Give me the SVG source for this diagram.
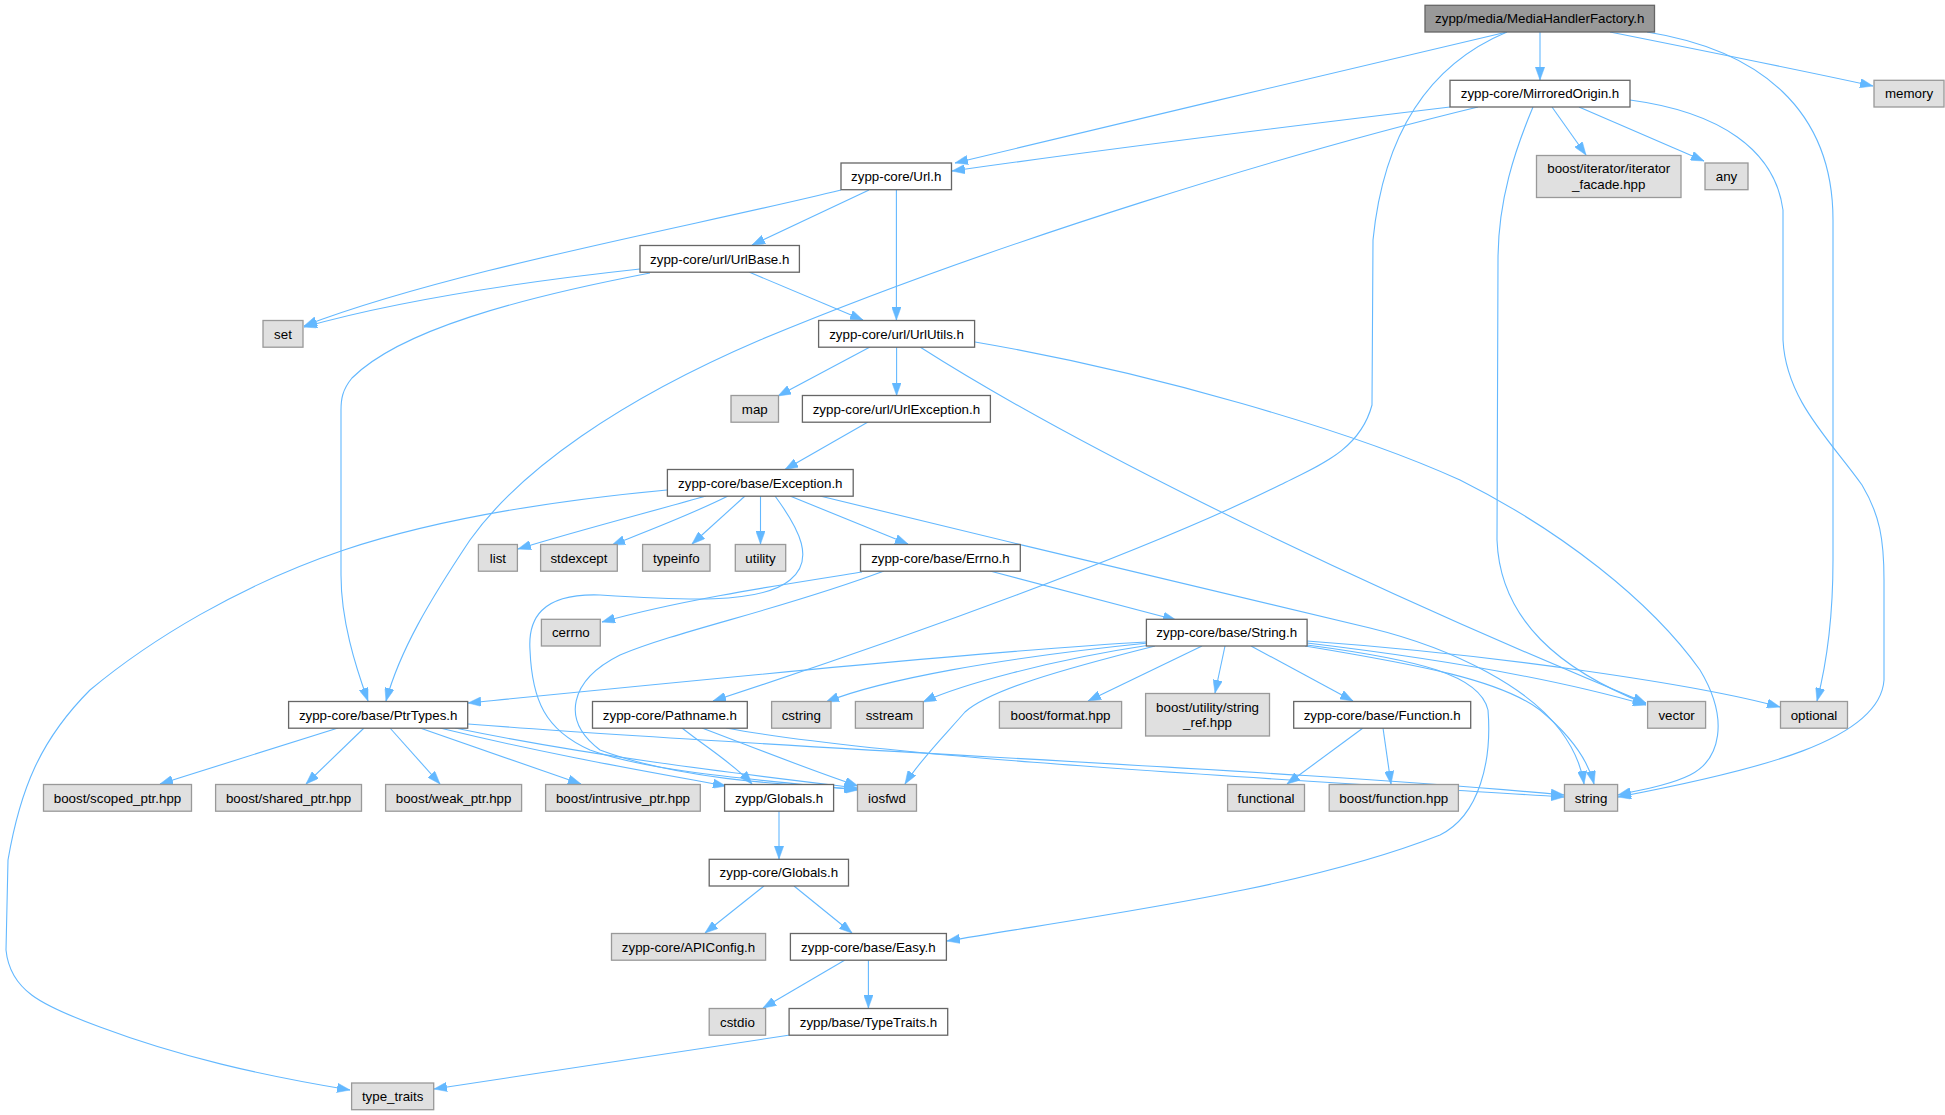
<svg xmlns="http://www.w3.org/2000/svg" width="1945" height="1115" viewBox="0 0 1945 1115">
<style>
.n{fill:#ffffff;stroke:#666666;stroke-width:1.3}
.x{fill:#e0e0e0;stroke:#999999;stroke-width:1.3}
.m{fill:#999999;stroke:#666666;stroke-width:1.3}
text{font-family:"Liberation Sans",Arial,Helvetica,sans-serif;font-size:13.33px;fill:#000000;text-anchor:middle}
#edges path{fill:none;stroke:#63b8ff;stroke-width:1.1;marker-end:url(#arr)}
</style>
<defs>
<marker id="arr" markerUnits="userSpaceOnUse" markerWidth="13" markerHeight="9.4" refX="13" refY="4.7" orient="auto" viewBox="0 0 13 9.4">
<path d="M0,0 L13,4.7 L0,9.4 z" fill="#63b8ff" stroke="#63b8ff" stroke-width="0.5"/>
</marker>
</defs>
<rect width="1945" height="1115" fill="#ffffff"/>
<g id="edges">
<path d="M1507,32 C1400,57 1100,128 955,163"/>
<path d="M1540,32 L1540,80"/>
<path d="M1610,32 C1700,50 1800,70 1873,86"/>
<path d="M1647,32 C1760,50 1833,110 1833,220 L1833,560 C1833,620 1825,670 1817,701"/>
<path d="M1507,32 C1440,60 1385,120 1373,240 L1372,405 C1360,450 1320,465 1280,485 C1150,550 900,640 713,701"/>
<path d="M1450,107 C1300,125 1100,150 952,171"/>
<path d="M1478,107 C1300,150 1000,240 760,340 C620,400 520,470 470,540 C430,600 400,650 386,701"/>
<path d="M1533,107 C1515,150 1498,200 1498,260 L1497,540 C1500,620 1560,670 1646,704"/>
<path d="M1552,107 L1586,155"/>
<path d="M1579,107 L1704,161"/>
<path d="M1630,100 C1720,112 1775,150 1783,210 L1783,340 C1786,400 1830,440 1862,485 C1880,515 1884,540 1884,580 L1884,680 C1880,740 1760,770 1618,797"/>
<path d="M841,190 C700,225 450,270 304,326"/>
<path d="M640,269 C520,282 400,300 304,327"/>
<path d="M869,190 L752,245"/>
<path d="M896.4,190 L896.4,320"/>
<path d="M749,272 L863,320"/>
<path d="M650,273 C520,298 400,330 352,378 C342,390 341,400 341,410 L341,575 C341,620 355,665 368,701"/>
<path d="M870,347 L778,396"/>
<path d="M896.6,347 L896.6,395.5"/>
<path d="M920,347 C1050,430 1300,560 1646,703"/>
<path d="M975,342 C1150,372 1350,430 1460,480 C1560,530 1650,600 1700,670 C1730,720 1720,760 1690,775 C1670,785 1640,790 1618,795"/>
<path d="M868,422 L785,469.5"/>
<path d="M667,490 C560,500 440,518 344,550 C240,585 150,640 90,690 C40,740 20,790 8,860 L6,950 C10,990 40,1005 100,1027 C180,1057 260,1075 350,1090"/>
<path d="M706,496 C650,512 580,530 518,549"/>
<path d="M728,496 C690,515 650,530 612,545"/>
<path d="M745,496 L692,544"/>
<path d="M760.5,496 L760.5,544"/>
<path d="M790,496 L908,544"/>
<path d="M775,496 C800,530 815,560 790,580 C760,605 680,600 600,595 C540,593 528,620 530,650 C532,700 545,730 590,750 C650,772 760,780 858,790"/>
<path d="M820,496 C1000,540 1250,600 1370,628 C1460,650 1530,690 1560,730 C1575,750 1582,770 1584,784"/>
<path d="M862,572 C780,585 680,600 602,622"/>
<path d="M884,571 C780,610 680,630 620,655 C570,680 560,720 600,750 C680,780 790,785 857,789"/>
<path d="M990,571 L1176,620"/>
<path d="M1146,642 C1000,650 700,680 468,703"/>
<path d="M1148,643 C1000,658 880,680 826,702"/>
<path d="M1150,645 C1050,660 960,685 923,702"/>
<path d="M1155,646 C1060,670 990,690 965,712 C945,735 920,760 905,784"/>
<path d="M1202,646 L1088,701"/>
<path d="M1225,646 L1215,693"/>
<path d="M1251,646 L1353,701"/>
<path d="M1307,643 C1450,660 1560,680 1646,705"/>
<path d="M1307,641 C1500,655 1700,685 1780,707"/>
<path d="M1305,646 C1420,665 1500,680 1540,710 C1570,735 1588,760 1594,784"/>
<path d="M1307,645 C1420,660 1480,675 1488,710 C1492,760 1480,815 1440,835 C1300,890 1100,915 947,941"/>
<path d="M1363,728 L1287,784"/>
<path d="M1383,728 L1391,784"/>
<path d="M338,728 L160,784"/>
<path d="M364,728 L306,784"/>
<path d="M390,728 L440,784"/>
<path d="M420,728 L581,784"/>
<path d="M440,728 C550,755 650,772 726,786"/>
<path d="M455,728 C600,758 750,775 857,788"/>
<path d="M468,724 C800,750 1300,770 1564,795"/>
<path d="M682,728 C710,750 735,765 752,784"/>
<path d="M702,728 C760,750 810,770 858,786"/>
<path d="M726,728 C900,760 1300,780 1564,797"/>
<path d="M779,811 L779,859"/>
<path d="M764,886 L705,933"/>
<path d="M794,886 L852,933"/>
<path d="M845,960 L763,1008"/>
<path d="M868.4,960 L868.4,1008"/>
<path d="M790,1035 C650,1056 520,1075 434,1089"/>
</g>
<g id="n_main"><rect class="m" x="1425" y="5.3" width="229.5" height="26.7"/><text x="1539.75" y="23.3">zypp/media/MediaHandlerFactory.h</text></g>
<g id="n_mirrored"><rect class="n" x="1450" y="80.3" width="180" height="26.7"/><text x="1540" y="98.3">zypp-core/MirroredOrigin.h</text></g>
<g id="n_memory"><rect class="x" x="1874" y="80.3" width="70" height="26.7"/><text x="1909" y="98.3">memory</text></g>
<g id="n_iterfacade"><rect class="x" x="1536.5" y="155.5" width="144.5" height="42"/><text x="1608.75" y="173">boost/iterator/iterator</text><text x="1608.75" y="189">_facade.hpp</text></g>
<g id="n_any"><rect class="x" x="1705" y="163" width="43" height="26.7"/><text x="1726.5" y="181">any</text></g>
<g id="n_url"><rect class="n" x="841" y="163" width="110.5" height="26.7"/><text x="896.25" y="181">zypp-core/Url.h</text></g>
<g id="n_urlbase"><rect class="n" x="640" y="245.5" width="159.4" height="26.7"/><text x="719.7" y="263.5">zypp-core/url/UrlBase.h</text></g>
<g id="n_set"><rect class="x" x="263" y="320.5" width="40" height="26.7"/><text x="283" y="338.5">set</text></g>
<g id="n_urlutils"><rect class="n" x="818.6" y="320.5" width="156" height="26.7"/><text x="896.6" y="338.5">zypp-core/url/UrlUtils.h</text></g>
<g id="n_map"><rect class="x" x="731" y="395.5" width="47.5" height="26.7"/><text x="754.75" y="413.5">map</text></g>
<g id="n_urlexception"><rect class="n" x="802.4" y="395.5" width="188" height="26.7"/><text x="896.4" y="413.5">zypp-core/url/UrlException.h</text></g>
<g id="n_exception"><rect class="n" x="667.4" y="469.5" width="185.8" height="26.7"/><text x="760.3" y="487.5">zypp-core/base/Exception.h</text></g>
<g id="n_list"><rect class="x" x="478.4" y="544.5" width="39" height="26.7"/><text x="497.9" y="562.5">list</text></g>
<g id="n_stdexcept"><rect class="x" x="540.6" y="544.5" width="76.7" height="26.7"/><text x="578.95" y="562.5">stdexcept</text></g>
<g id="n_typeinfo"><rect class="x" x="642.6" y="544.5" width="67.4" height="26.7"/><text x="676.3" y="562.5">typeinfo</text></g>
<g id="n_utility"><rect class="x" x="735.3" y="544.5" width="50.4" height="26.7"/><text x="760.5" y="562.5">utility</text></g>
<g id="n_errno"><rect class="n" x="860.5" y="544.5" width="159.8" height="26.7"/><text x="940.4" y="562.5">zypp-core/base/Errno.h</text></g>
<g id="n_cerrno"><rect class="x" x="541.4" y="619.3" width="58.9" height="26.7"/><text x="570.85" y="637.3">cerrno</text></g>
<g id="n_stringh"><rect class="n" x="1146.4" y="619.3" width="160.7" height="26.7"/><text x="1226.75" y="637.3">zypp-core/base/String.h</text></g>
<g id="n_ptrtypes"><rect class="n" x="288.6" y="701.5" width="179.1" height="26.7"/><text x="378.15" y="719.5">zypp-core/base/PtrTypes.h</text></g>
<g id="n_pathname"><rect class="n" x="592.5" y="701.5" width="154.8" height="26.7"/><text x="669.9" y="719.5">zypp-core/Pathname.h</text></g>
<g id="n_cstring"><rect class="x" x="771.6" y="701.5" width="59.4" height="26.7"/><text x="801.3" y="719.5">cstring</text></g>
<g id="n_sstream"><rect class="x" x="855.4" y="701.5" width="67.9" height="26.7"/><text x="889.35" y="719.5">sstream</text></g>
<g id="n_format"><rect class="x" x="999.4" y="701.5" width="122.2" height="26.7"/><text x="1060.5" y="719.5">boost/format.hpp</text></g>
<g id="n_stringref"><rect class="x" x="1145.6" y="693.5" width="123.9" height="42.5"/><text x="1207.55" y="711.5">boost/utility/string</text><text x="1207.55" y="727">_ref.hpp</text></g>
<g id="n_function"><rect class="n" x="1293.7" y="701.5" width="177" height="26.7"/><text x="1382.2" y="719.5">zypp-core/base/Function.h</text></g>
<g id="n_vector"><rect class="x" x="1647.6" y="701.5" width="58" height="26.7"/><text x="1676.6" y="719.5">vector</text></g>
<g id="n_optional"><rect class="x" x="1780.5" y="701.5" width="67" height="26.7"/><text x="1814" y="719.5">optional</text></g>
<g id="n_scoped"><rect class="x" x="43.5" y="784.5" width="148" height="26.7"/><text x="117.5" y="802.5">boost/scoped_ptr.hpp</text></g>
<g id="n_shared"><rect class="x" x="215.6" y="784.5" width="145.9" height="26.7"/><text x="288.55" y="802.5">boost/shared_ptr.hpp</text></g>
<g id="n_weak"><rect class="x" x="385.6" y="784.5" width="136" height="26.7"/><text x="453.6" y="802.5">boost/weak_ptr.hpp</text></g>
<g id="n_intrusive"><rect class="x" x="545.6" y="784.5" width="154.7" height="26.7"/><text x="622.95" y="802.5">boost/intrusive_ptr.hpp</text></g>
<g id="n_zglobals"><rect class="n" x="724.6" y="784.5" width="109" height="26.7"/><text x="779.1" y="802.5">zypp/Globals.h</text></g>
<g id="n_iosfwd"><rect class="x" x="857.5" y="784.5" width="59" height="26.7"/><text x="887" y="802.5">iosfwd</text></g>
<g id="n_functional"><rect class="x" x="1227.6" y="784.5" width="76.9" height="26.7"/><text x="1266.05" y="802.5">functional</text></g>
<g id="n_bfunction"><rect class="x" x="1329.2" y="784.5" width="129.2" height="26.7"/><text x="1393.8" y="802.5">boost/function.hpp</text></g>
<g id="n_string"><rect class="x" x="1564.5" y="784.5" width="53.1" height="26.7"/><text x="1591.05" y="802.5">string</text></g>
<g id="n_zcglobals"><rect class="n" x="709.2" y="859.3" width="139.3" height="26.7"/><text x="778.85" y="877.3">zypp-core/Globals.h</text></g>
<g id="n_apiconfig"><rect class="x" x="611.5" y="933.5" width="154.1" height="26.7"/><text x="688.55" y="951.5">zypp-core/APIConfig.h</text></g>
<g id="n_easy"><rect class="n" x="790.4" y="933.5" width="156" height="26.7"/><text x="868.4" y="951.5">zypp-core/base/Easy.h</text></g>
<g id="n_cstdio"><rect class="x" x="709.2" y="1008.5" width="56.4" height="26.7"/><text x="737.4" y="1026.5">cstdio</text></g>
<g id="n_typetraits"><rect class="n" x="789.1" y="1008.5" width="158.6" height="26.7"/><text x="868.4" y="1026.5">zypp/base/TypeTraits.h</text></g>
<g id="n_type_traits"><rect class="x" x="351.6" y="1083" width="82.1" height="26.7"/><text x="392.65" y="1101">type_traits</text></g>
</svg>
